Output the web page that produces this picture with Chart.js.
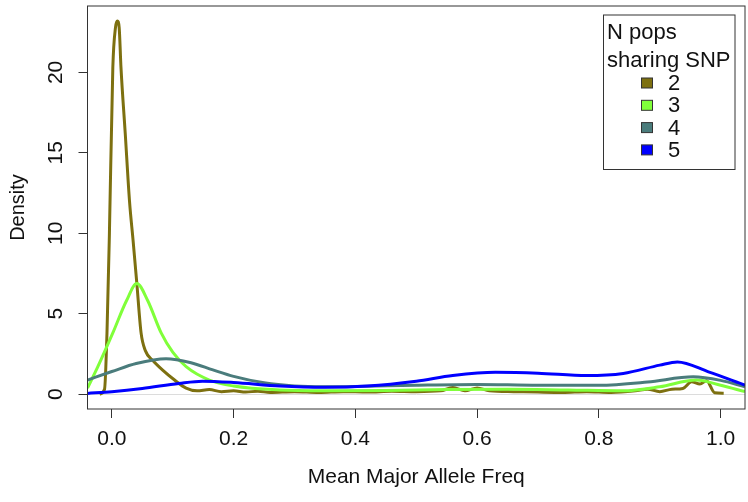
<!DOCTYPE html>
<html>
<head>
<meta charset="utf-8">
<script src="https://cdn.jsdelivr.net/npm/chart.js@4.4.1/dist/chart.umd.min.js"></script>
<style>
  html, body { margin: 0; padding: 0; background: #fff; }
  #wrap { width: 748px; height: 502px; }
</style>
</head>
<body>
<div id="wrap"><canvas id="grafico" width="748" height="502"></canvas></div>
<script>
// ================= DADOS =================
// número de populações que compartilham o SNP
const grupos = ["2", "3", "4", "5"]
const cores = ["#7d7010", "#80ff3a", "#4a7c7c", "#0000ff"]

// curvas de densidade (x = frequência média do alelo maior)
const x2 = [-0.02, -0.012, -0.008, -0.004, 0.0016, 0.006, 0.009, 0.012, 0.015, 0.022, 0.029, 0.035, 0.041, 0.048, 0.055, 0.067, 0.083, 0.103, 0.122, 0.14, 0.16, 0.18, 0.2, 0.22, 0.24, 0.26, 0.3, 0.34, 0.38, 0.42, 0.46, 0.5, 0.54, 0.56, 0.58, 0.6, 0.62, 0.66, 0.7, 0.74, 0.78, 0.82, 0.86, 0.88, 0.9, 0.92, 0.938, 0.952, 0.966, 0.977, 0.99, 1.005]
const y2 = [0.0, 0.3, 3.8, 10.0, 20.3, 22.8, 23.2, 22.8, 20.3, 16.2, 12.0, 9.5, 6.9, 3.8, 2.7, 2.1, 1.5, 0.87, 0.37, 0.2, 0.28, 0.15, 0.2, 0.12, 0.18, 0.1, 0.15, 0.1, 0.15, 0.12, 0.18, 0.15, 0.2, 0.4, 0.2, 0.38, 0.2, 0.15, 0.12, 0.1, 0.15, 0.1, 0.2, 0.3, 0.15, 0.3, 0.35, 0.76, 0.62, 0.83, 0.08, 0.05]

const x3 = [-0.04, -0.023, 0.0016, 0.024, 0.041, 0.059, 0.081, 0.1, 0.122, 0.16, 0.2, 0.276, 0.35, 0.45, 0.55, 0.65, 0.75, 0.84, 0.9, 0.96, 1.0, 1.04]
const y3 = [0.37, 1.7, 3.8, 5.8, 6.87, 5.8, 3.8, 2.6, 1.7, 0.87, 0.5, 0.25, 0.2, 0.22, 0.28, 0.3, 0.25, 0.2, 0.45, 0.87, 0.55, 0.15]

const x4 = [-0.04, 0.0, 0.04, 0.089, 0.13, 0.166, 0.2, 0.25, 0.3, 0.35, 0.4, 0.5, 0.6, 0.7, 0.8, 0.88, 0.955, 1.0, 1.04]
const y4 = [0.87, 1.4, 1.9, 2.2, 1.95, 1.5, 1.1, 0.7, 0.5, 0.45, 0.47, 0.55, 0.6, 0.55, 0.55, 0.75, 1.07, 0.85, 0.45]

const x5 = [-0.04, 0.0, 0.05, 0.11, 0.149, 0.2, 0.276, 0.35, 0.42, 0.5, 0.56, 0.63, 0.7, 0.78, 0.84, 0.9, 0.929, 0.98, 1.04]
const y5 = [0.04, 0.15, 0.35, 0.66, 0.8, 0.72, 0.5, 0.42, 0.5, 0.8, 1.15, 1.35, 1.3, 1.15, 1.28, 1.8, 2.0, 1.38, 0.56]

// marcas dos eixos
const ticksX = [0, 0.2, 0.4, 0.6, 0.8, 1.0]
const ticksY = [0, 5, 10, 15, 20]

// ================= UTILITÁRIOS =================
const FONTE = "'Liberation Sans', Arial, Helvetica, sans-serif"

function pares(xs, ys) {
    return xs.map((x, i) => ({ x: x, y: ys[i] }))
}

const serieX = [x2, x3, x4, x5]
const serieY = [y2, y3, y4, y5]

// Moldura do gráfico (box do R)
const moldura = {
    id: "moldura",
    afterDraw(chart) {
        const { ctx, chartArea: a } = chart
        ctx.save()
        ctx.strokeStyle = "#333"
        ctx.lineWidth = 1
        ctx.strokeRect(a.left, a.top, a.right - a.left, a.bottom - a.top)
        ctx.restore()
    }
}

// Legenda desenhada dentro da área do gráfico
const legenda = {
    id: "legenda",
    afterDraw(chart) {
        const ctx = chart.ctx
        ctx.save()
        ctx.fillStyle = "#fff"
        ctx.fillRect(603.5, 15, 131.5, 154.5)
        ctx.strokeStyle = "#333"
        ctx.lineWidth = 1
        ctx.strokeRect(603.5, 15, 131.5, 154.5)
        ctx.font = "22px " + FONTE
        ctx.fillStyle = "#111"
        ctx.textBaseline = "middle"
        ctx.textAlign = "left"
        ctx.fillText("N pops", 607, 33)
        ctx.fillText("sharing SNP", 607, 61)
        grupos.forEach((g, i) => {
            const y = 83 + i * 22.3
            ctx.fillStyle = cores[i]
            ctx.fillRect(641.5, y - 5, 11, 10)
            ctx.strokeStyle = "#333"
            ctx.strokeRect(641.5, y - 5, 11, 10)
            ctx.fillStyle = "#111"
            ctx.fillText(g, 668, y + 1)
        })
        ctx.restore()
    }
}

// ================= GRÁFICO =================
const datasets = grupos.map((g, i) => ({
    label: g,
    data: pares(serieX[i], serieY[i]),
    borderColor: cores[i],
    backgroundColor: cores[i],
    borderWidth: 3,
    pointRadius: 0,
    fill: false,
    cubicInterpolationMode: "monotone",
    order: 4 - i
}))

new Chart(document.getElementById("grafico"), {
    type: "line",
    data: { datasets: datasets },
    plugins: [moldura, legenda],
    options: {
        responsive: false,
        animation: false,
        layout: { padding: { top: 6, right: 3, left: 0, bottom: 0 } },
        plugins: {
            legend: { display: false },
            tooltip: { enabled: false }
        },
        scales: {
            x: {
                type: "linear",
                min: -0.04,
                max: 1.04,
                afterBuildTicks: (s) => { s.ticks = ticksX.map(v => ({ value: v })) },
                afterFit: (s) => {
                    s.height = 93
                    s.paddingLeft = 0
                    s.paddingRight = 0
                },
                border: { display: false },
                grid: { drawOnChartArea: false, tickLength: 9, color: "#333", tickColor: "#333" },
                ticks: {
                    padding: 9,
                    color: "#111",
                    font: { family: FONTE, size: 21 },
                    maxRotation: 0,
                    callback: (v) => Number(v).toFixed(1)
                },
                title: {
                    display: true,
                    text: "Mean Major Allele Freq",
                    color: "#111",
                    font: { family: FONTE, size: 21 },
                    padding: { top: 0, bottom: 12 }
                }
            },
            y: {
                min: -0.93,
                max: 24.13,
                afterBuildTicks: (s) => { s.ticks = ticksY.map(v => ({ value: v })) },
                afterFit: (s) => {
                    s.width = 87.5
                    s.paddingTop = 0
                    s.paddingBottom = 0
                },
                border: { display: false },
                grid: {
                    drawOnChartArea: true,
                    tickLength: 9,
                    color: (c) => (c.tick && c.tick.value === 0 ? "#dcdcdc" : "rgba(0,0,0,0)"),
                    tickColor: "#333"
                },
                ticks: {
                    padding: 11,
                    color: "#111",
                    crossAlign: "center",
                    minRotation: 90,
                    maxRotation: 90,
                    font: { family: FONTE, size: 21 },
                    callback: (v) => String(v)
                },
                title: {
                    display: true,
                    text: "Density",
                    color: "#111",
                    font: { family: FONTE, size: 20 },
                    padding: { top: 6, bottom: 0 }
                }
            }
        }
    }
})
</script>
</body>
</html>
